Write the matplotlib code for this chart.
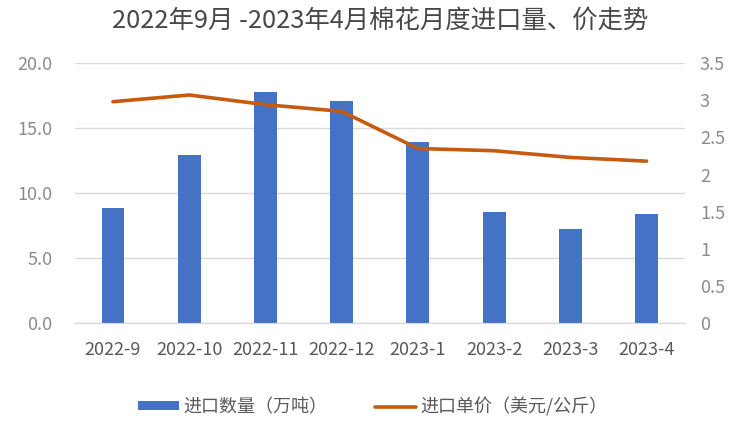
import numpy as np
import matplotlib.pyplot as plt

plt.rcParams['font.family'] = ['Noto Sans CJK SC', 'DejaVu Sans']

# ── Data ─────────────────────────────────────────────────────────────────────
months = ["2022-9", "2022-10", "2022-11", "2022-12",
          "2023-1", "2023-2", "2023-3", "2023-4"]
volume = [8.82, 12.92, 17.75, 17.1, 13.95, 8.54, 7.23, 8.38]   # 万吨
price = [2.98, 3.07, 2.94, 2.85, 2.35, 2.32, 2.23, 2.18]        # 美元/公斤

bar_c = '#4472C4'
line_c = '#C55A11'
txt_c = '#595959'
ytxt_c = '#8C8C8C'

fig = plt.figure(figsize=(7.41, 4.47), dpi=100)
ax = fig.add_axes([0.101, 0.277, 0.823, 0.582])
ax2 = ax.twinx()

x = np.arange(len(months))
ax.bar(x, volume, width=0.3, color=bar_c, label="进口数量（万吨）", zorder=2)
ax2.plot(x, price, color=line_c, lw=2.6, solid_capstyle='round',
         label="进口单价（美元/公斤）", zorder=3)

ax.set_xlim(-0.5, len(months) - 0.5)
ax.set_ylim(0, 20)
ax.set_yticks(np.arange(0, 20.1, 5))
ax.set_yticklabels([f"{v:.1f}" for v in np.arange(0, 20.1, 5)])
ax2.set_ylim(0, 3.5)
ax2.set_yticks(np.arange(0, 3.51, 0.5))
ax2.set_yticklabels(["0", "0.5", "1", "1.5", "2", "2.5", "3", "3.5"])

ax.set_xticks(x)
ax.set_xticklabels(months)

ax.grid(axis='y', color='#D9D9D9', lw=1, zorder=0)
ax.set_axisbelow(True)
for a in (ax, ax2):
    for s in ('top', 'left', 'right'):
        a.spines[s].set_visible(False)
    a.spines['bottom'].set_color('#D9D9D9')
    a.tick_params(length=0, labelsize=13, colors=ytxt_c)
ax.tick_params(axis='x', pad=13, labelsize=13, colors=txt_c)
ax.tick_params(axis='y', pad=16)
ax2.tick_params(axis='y', pad=11)

fig.suptitle("2022年9月 -2023年4月棉花月度进口量、价走势", x=0.513, y=0.982,
             fontsize=18.3, color='#484848')

h1, l1 = ax.get_legend_handles_labels()
h2, l2 = ax2.get_legend_handles_labels()
fig.legend(h1 + h2, l1 + l2, loc='center', bbox_to_anchor=(0.503, 0.09),
           ncol=2, frameon=False, fontsize=13, labelcolor=txt_c,
           handlelength=2.3, handleheight=0.4, columnspacing=2.6,
           handletextpad=0.25)

plt.savefig("out.png", dpi=100)
